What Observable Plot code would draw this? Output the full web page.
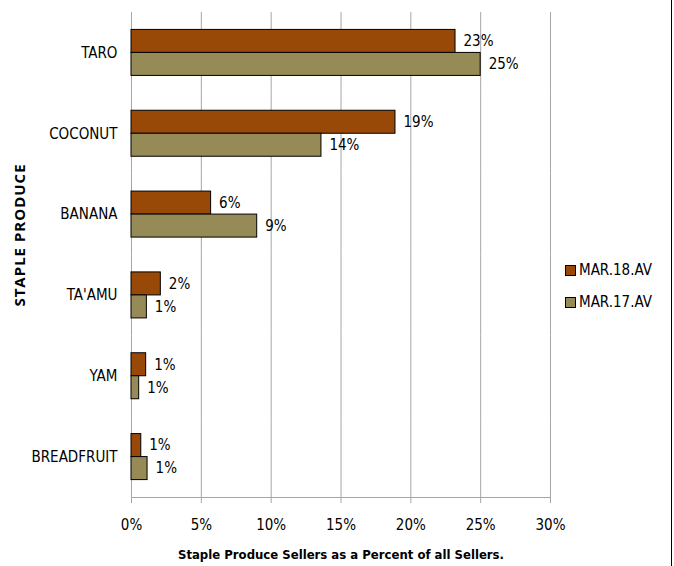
<!DOCTYPE html>
<html>
<head>
<meta charset="utf-8">
<script src="https://cdn.jsdelivr.net/npm/d3@7"></script>
<script src="https://cdn.jsdelivr.net/npm/@observablehq/plot@0.6"></script>
<style>
  body { margin: 0; background: #fff; }
  #wrap { position: relative; width: 674px; height: 566px; font-family: "DejaVu Sans Condensed", sans-serif; }
  #border { position: absolute; left: 671px; top: 0; width: 1px; height: 566px; background: #000; }
  .legend { position: absolute; left: 565px; font-size: 15px; display: flex; align-items: center; color: #000; }
  .sw { width: 9px; height: 9px; border: 1px solid #000; margin-right: 3px; }
</style>
</head>
<body>
<div id="wrap"></div>
<script>
const categories = ["TARO", "COCONUT", "BANANA", "TA'AMU", "YAM", "BREADFRUIT"];
const series = ["MAR.18.AV", "MAR.17.AV"];
const mar18 = [23.2, 18.9, 5.7, 2.1, 1.05, 0.7];
const mar17 = [25.0, 13.6, 9.0, 1.1, 0.55, 1.15];
const labels18 = ["23%", "19%", "6%", "2%", "1%", "1%"];
const labels17 = ["25%", "14%", "9%", "1%", "1%", "1%"];
const colors = ["#984907", "#968b56"];
const xTicks = [0, 5, 10, 15, 20, 25, 30];
const xTitle = "Staple Produce Sellers as a Percent of all Sellers.";
const yTitle = "STAPLE PRODUCE";

const rows = categories.flatMap((c, i) => [
  {cat: c, series: series[0], value: mar18[i], label: labels18[i]},
  {cat: c, series: series[1], value: mar17[i], label: labels17[i]}
]);

const chart = Plot.plot({
  width: 674,
  height: 566,
  marginLeft: 131,
  marginRight: 124,
  marginTop: 12,
  marginBottom: 69,
  style: {fontFamily: '"DejaVu Sans Condensed", sans-serif', fontSize: "15px", color: "#000", background: "transparent"},
  x: {domain: [0, 30]},
  fy: {domain: categories, padding: 0, round: false},
  y: {domain: series, paddingInner: 0, paddingOuter: 0.757, round: false, axis: null},
  color: {domain: series, range: colors},
  marks: [
    Plot.gridX(xTicks, {stroke: "#a6a6a6", strokeOpacity: 1, strokeWidth: 1}),
    Plot.frame({anchor: "bottom", facetAnchor: "bottom", stroke: "#a6a6a6"}),
    Plot.barX(rows, {fy: "cat", y: "series", x: "value", fill: "series", stroke: "#000", strokeWidth: 1}),
    Plot.text(rows, {fy: "cat", y: "series", x: "value", text: "label", textAnchor: "start", dx: 8, fill: "#000"}),
    Plot.axisX(xTicks, {
      tickFormat: d => d + "%", tickSize: 6, tickPadding: 16, stroke: "#a6a6a6", fill: "#000",
      label: xTitle, labelAnchor: "center", labelArrow: "none", labelOffset: 61
    }),
    Plot.axisFy({
      anchor: "left", tickSize: 0, tickPadding: 14,
      label: yTitle, labelAnchor: "center", labelOffset: 117
    })
  ]
});

const wrap = document.getElementById("wrap");
wrap.appendChild(chart);

// bold axis titles
chart.querySelectorAll('g[aria-label="x-axis label"] text, g[aria-label="fy-axis label"] text').forEach(t => {
  t.setAttribute("font-weight", "bold");
});
chart.querySelectorAll('g[aria-label="fy-axis label"] text').forEach(t => {
  t.setAttribute("font-size", "15px");
  t.setAttribute("letter-spacing", "1px");
  t.setAttribute("font-family", '"Open Sans", sans-serif');
  t.setAttribute("dx", "20");
});
chart.querySelectorAll('g[aria-label="x-axis label"] text').forEach(t => {
  t.setAttribute("font-size", "13px");
});

// legend
series.forEach((s, i) => {
  const d = document.createElement("div");
  d.className = "legend";
  d.style.top = (261 + i * 32) + "px";
  const sw = document.createElement("div");
  sw.className = "sw";
  sw.style.background = colors[i];
  const t = document.createElement("span");
  t.textContent = s;
  d.appendChild(sw);
  d.appendChild(t);
  wrap.appendChild(d);
});
const b = document.createElement("div");
b.id = "border";
wrap.appendChild(b);
chart.style.position = "absolute";
chart.style.left = "0";
chart.style.top = "0";
</script>
</body>
</html>
